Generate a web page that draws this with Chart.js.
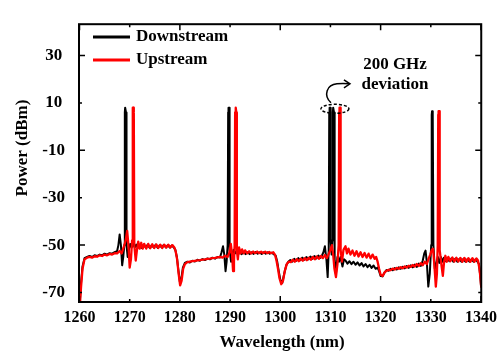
<!DOCTYPE html>
<html>
<head>
<meta charset="utf-8">
<script src="https://cdn.jsdelivr.net/npm/chart.js@4.4.1/dist/chart.umd.min.js"></script>
<style>
  html, body { margin: 0; padding: 0; background: #fff; }
  canvas { display: block; }
</style>
</head>
<body>
<canvas id="spectrum" width="503" height="354"></canvas>
<script>
// axis ticks
const wavelengthTicks = [1260, 1270, 1280, 1290, 1300, 1310, 1320, 1330, 1340];
const powerTicks = [-70, -50, -30, -10, 10, 30];
const seriesNames = ["Downstream", "Upstream"];

// [wavelength (nm), power (dBm)]
const downstreamTrace = [
  [1260.0,-76],[1260.3,-66],[1260.6,-59],[1261.0,-55.5],[1261.5,-55],[1262.0,-54.6],[1262.5,-55],[1263.0,-54.3],
  [1263.5,-54.6],[1264.0,-54],[1264.5,-54.3],[1265.0,-53.6],[1265.5,-54],[1266.0,-53.4],[1266.5,-53.6],[1267.0,-53],[1267.5,-52.5],
  [1267.75,-50],[1268.0,-45.5],[1268.25,-50],[1268.5,-58.5],[1268.72,-55],[1268.93,-50],[1269.03,6],[1269.1,8],
  [1269.2,8],[1269.27,6],[1269.37,-50],[1269.6,-55],[1269.85,-52],[1270.1,-49.5],[1270.4,-51],[1270.7,-49.5],
  [1271.0,-51],[1271.3,-49.8],[1271.6,-51.2],
  [1272.0,-50],[1272.4,-51.2],[1272.8,-49.8],[1273.2,-51],[1273.6,-49.8],[1274.0,-51.2],[1274.4,-50],[1274.8,-51],
  [1275.2,-49.8],[1275.6,-51.2],[1276.0,-50],[1276.4,-51],[1276.8,-49.9],[1277.2,-51],[1277.6,-50],[1278.0,-51],
  [1278.4,-50.2],[1278.8,-51],[1279.1,-52],[1279.4,-55],[1279.7,-60.5],[1280.0,-65.5],[1280.3,-64],[1280.6,-59.5],[1281.0,-57.5],
  [1281.5,-57],[1282.0,-57.3],[1282.5,-56.6],[1283.0,-56.9],[1283.5,-56.2],[1284.0,-56.6],[1284.5,-55.9],[1285.0,-56.3],
  [1285.5,-55.6],[1286.0,-56],[1286.5,-55.3],[1287.0,-55.7],[1287.5,-55],[1288.0,-55.2],
  [1288.3,-53],[1288.6,-50.5],[1288.85,-54],[1289.1,-61],[1289.32,-57],[1289.52,-50],[1289.62,6],[1289.69,8],
  [1289.79,8],[1289.86,6],[1289.96,-52],[1290.2,-57],[1290.45,-54],[1290.7,-52],[1291.0,-53.5],[1291.3,-52.5],
  [1291.6,-54],[1291.9,-52.8],
  [1292.3,-53.8],[1292.7,-52.9],[1293.1,-53.8],[1293.5,-53],[1293.9,-53.8],[1294.3,-53],[1294.7,-53.7],[1295.1,-52.9],
  [1295.5,-53.6],[1295.9,-53],[1296.3,-53.7],[1296.7,-53],[1297.1,-53.6],[1297.5,-53],[1297.9,-53.6],[1298.3,-53.2],
  [1298.7,-53.8],[1299.1,-54.5],[1299.4,-57],[1299.7,-61],[1300.0,-64.5],[1300.4,-66],[1300.8,-62],[1301.2,-58.5],[1301.6,-57],
  [1302.0,-56.3],[1302.4,-57],[1302.8,-55.8],[1303.2,-56.6],[1303.6,-55.5],[1304.0,-56.4],[1304.4,-55.3],[1304.8,-56.2],
  [1305.2,-55],[1305.6,-56],[1306.0,-54.8],[1306.4,-55.8],[1306.8,-54.6],[1307.2,-55.6],[1307.6,-54.4],[1308.0,-55.4],
  [1308.3,-54.4],[1308.6,-53],
  [1308.9,-50.5],[1309.2,-56],[1309.45,-63.5],[1309.66,-52],[1309.76,6],[1309.83,8],[1309.93,8],[1310.0,6],
  [1310.1,-48],[1310.24,-54],[1310.38,-48],[1310.48,6],[1310.55,8],[1310.65,8],[1310.72,6],[1310.84,-56],
  [1311.1,-62],[1311.4,-55],[1311.7,-57],[1312.0,-55],[1312.4,-59],[1312.7,-56],
  [1313.0,-56.5],[1313.4,-57.8],[1313.8,-56.8],[1314.2,-58],[1314.6,-57],[1315.0,-58.3],[1315.4,-57.3],[1315.8,-58.6],
  [1316.2,-57.6],[1316.6,-59],[1317.0,-58],[1317.4,-59.3],[1317.8,-58.3],[1318.2,-59.6],[1318.6,-58.6],[1319.0,-60],
  [1319.4,-59.5],[1319.7,-61],[1320.0,-63],[1320.4,-63.2],[1320.8,-61.5],[1321.2,-60.5],
  [1321.6,-60.8],[1322.0,-60],[1322.4,-60.6],[1322.8,-59.7],[1323.2,-60.3],[1323.6,-59.4],[1324.0,-60],[1324.4,-59.1],
  [1324.8,-59.8],[1325.2,-58.8],[1325.6,-59.6],[1326.0,-58.5],[1326.4,-59.4],[1326.8,-58.2],[1327.2,-59.2],[1327.6,-57.8],
  [1328.0,-58.8],[1328.4,-56.5],[1328.7,-53.5],[1328.95,-52.3],[1329.2,-57],[1329.5,-67.5],[1329.8,-62],[1330.08,-50],
  [1330.18,5],[1330.25,6.5],[1330.35,6.5],[1330.42,5],[1330.52,-50],[1330.8,-60],[1331.1,-58],[1331.4,-55],
  [1331.7,-57.5],[1332.0,-55],[1332.3,-57],[1332.6,-55.3],[1332.9,-56.8],
  [1333.3,-55.5],[1333.7,-56.8],[1334.1,-55.6],[1334.5,-57],[1334.9,-55.7],[1335.3,-57],[1335.7,-55.8],[1336.1,-57],
  [1336.5,-55.8],[1336.9,-57],[1337.3,-55.9],[1337.7,-57],[1338.1,-56],[1338.5,-57],[1338.9,-56],[1339.3,-57],
  [1339.6,-58],[1339.85,-63],[1340.0,-67]
];

const upstreamTrace = [
  [1260.0,-78],[1260.3,-68],[1260.6,-60],[1261.0,-56],[1261.5,-55.3],[1262.0,-55],[1262.5,-55.3],[1263.0,-54.7],
  [1263.5,-54.9],[1264.0,-54.3],[1264.5,-54.6],[1265.0,-54],[1265.5,-54.3],[1266.0,-53.7],[1266.5,-54],[1267.0,-53.4],
  [1267.5,-53.5],[1268.0,-52.5],[1268.4,-53.5],[1268.8,-51],
  [1269.2,-48],[1269.5,-44],[1269.75,-50],[1270.0,-59.5],[1270.25,-56],[1270.48,-48],[1270.58,6],[1270.65,8],
  [1270.75,8],[1270.82,6],[1270.92,-50],[1271.2,-56.5],[1271.45,-52],[1271.7,-48.5],[1272.0,-51.5],[1272.3,-49],
  [1272.6,-51.5],[1272.9,-49.5],
  [1273.3,-51.5],[1273.7,-49.5],[1274.1,-51.3],[1274.5,-49.6],[1274.9,-51.2],[1275.3,-49.7],[1275.7,-51.2],[1276.1,-49.8],
  [1276.5,-51.2],[1276.9,-49.8],[1277.3,-51],[1277.7,-49.8],[1278.1,-51],[1278.5,-50],[1278.9,-51],[1279.15,-52.5],
  [1279.45,-56],[1279.75,-62],[1280.05,-67],[1280.35,-65],[1280.65,-60],[1281.0,-58],
  [1281.5,-57.2],[1282.0,-57],[1282.5,-56.8],[1283.0,-56.6],[1283.5,-56.4],[1284.0,-56.3],[1284.5,-56.1],[1285.0,-56],
  [1285.5,-55.8],[1286.0,-55.7],[1286.5,-55.5],[1287.0,-55.4],[1287.5,-55.2],[1288.0,-55],[1288.5,-55.3],[1289.0,-54.5],
  [1289.5,-55],
  [1289.9,-53],[1290.15,-49.5],[1290.4,-54],[1290.6,-61],[1290.78,-57],[1290.91,-50],[1291.01,6],[1291.08,8],
  [1291.18,8],[1291.25,6],[1291.35,-52],[1291.55,-56],[1291.8,-51],[1292.1,-53.5],[1292.4,-51.8],[1292.7,-53.5],
  [1293.0,-52.2],
  [1293.4,-53.5],[1293.8,-52.6],[1294.2,-53.5],[1294.6,-52.7],[1295.0,-53.4],[1295.4,-52.7],[1295.8,-53.4],[1296.2,-52.8],
  [1296.6,-53.4],[1297.0,-52.8],[1297.4,-53.4],[1297.8,-52.9],[1298.2,-53.4],[1298.6,-53],[1298.95,-54],[1299.25,-56.5],
  [1299.55,-60],[1299.85,-64],[1300.2,-66.5],[1300.55,-65],[1300.9,-61],[1301.3,-58],[1301.7,-57],
  [1302.1,-57.2],[1302.5,-56.2],[1302.9,-57],[1303.3,-55.9],[1303.7,-56.8],[1304.1,-55.7],[1304.5,-56.6],[1304.9,-55.5],
  [1305.3,-56.4],[1305.7,-55.3],[1306.1,-56.2],[1306.5,-55],[1306.9,-56],[1307.3,-54.8],[1307.7,-55.8],[1308.1,-54.6],
  [1308.5,-55.5],[1308.9,-54.2],[1309.3,-55.5],[1309.7,-53.5],[1310.0,-52],
  [1310.3,-50],[1310.55,-54],[1310.8,-60],[1311.1,-63.5],[1311.4,-58],[1311.64,-50],[1311.74,6],[1311.81,8],
  [1311.91,8],[1311.98,6],[1312.08,-52],[1312.3,-57],[1312.6,-52],[1313.0,-50.5],[1313.3,-53.5],[1313.6,-51.5],
  [1314.0,-54],[1314.4,-52.3],[1314.8,-54.5],[1315.2,-52.6],[1315.6,-54.8],[1316.0,-53],[1316.4,-55],[1316.8,-53.3],
  [1317.2,-55.3],[1317.6,-53.6],[1318.0,-55.6],[1318.4,-54],[1318.8,-55.8],[1319.1,-55],[1319.4,-57],[1319.7,-60],
  [1320.0,-62.5],[1320.4,-63],[1320.8,-61.5],[1321.2,-60.8],
  [1321.6,-60.4],[1322.0,-60.6],[1322.4,-59.9],[1322.8,-60.3],[1323.2,-59.6],[1323.6,-60],[1324.0,-59.3],[1324.4,-59.8],
  [1324.8,-59],[1325.2,-59.5],[1325.6,-58.7],[1326.0,-59.2],[1326.4,-58.4],[1326.8,-59],[1327.2,-58],[1327.6,-58.8],
  [1328.0,-57.6],[1328.4,-58.5],[1328.8,-57],[1329.2,-58],[1329.6,-55.5],[1329.9,-54],
  [1330.2,-52],[1330.45,-51.5],[1330.7,-58],[1331.0,-67.5],[1331.22,-62],[1331.38,-50],[1331.48,5],[1331.55,6.5],
  [1331.65,6.5],[1331.72,5],[1331.82,-52],[1332.1,-58],[1332.4,-63],[1332.65,-57],[1332.9,-54.5],[1333.2,-57],
  [1333.5,-55],
  [1333.9,-56.8],[1334.3,-55.2],[1334.7,-56.9],[1335.1,-55.3],[1335.5,-56.9],[1335.9,-55.4],[1336.3,-57],[1336.7,-55.4],
  [1337.1,-57],[1337.5,-55.5],[1337.9,-57],[1338.3,-55.5],[1338.7,-57],[1339.1,-55.6],[1339.4,-56.5],[1339.7,-60],
  [1339.9,-64],[1340.05,-68]
];

const serif = "'Liberation Serif', 'Times New Roman', serif";

function toPoints(trace) {
  return trace.map(([x, y]) => ({ x: x, y: y }));
}

// frame with inward ticks on all four sides
const framePlugin = {
  id: "frame",
  afterDraw(chart) {
    const { ctx, chartArea: a, scales } = chart;
    ctx.save();
    ctx.strokeStyle = "#000";
    ctx.lineWidth = 2;
    ctx.strokeRect(a.left, a.top, a.right - a.left, a.bottom - a.top);
    ctx.lineWidth = 1.5;
    ctx.beginPath();
    wavelengthTicks.forEach((v, i) => {
      const px = scales.x.getPixelForValue(v);
      const len = i % 2 === 0 ? 6 : 3;
      ctx.moveTo(px, a.bottom);
      ctx.lineTo(px, a.bottom - len);
      ctx.moveTo(px, a.top);
      ctx.lineTo(px, a.top + len);
    });
    powerTicks.forEach((v, i) => {
      const py = scales.y.getPixelForValue(v);
      const len = i % 2 === 1 ? 6 : 3;
      ctx.moveTo(a.left, py);
      ctx.lineTo(a.left + len, py);
      ctx.moveTo(a.right, py);
      ctx.lineTo(a.right - len, py);
    });
    ctx.stroke();

    // axis titles
    ctx.fillStyle = "#000";
    ctx.font = "bold 17px " + serif;
    ctx.textAlign = "center";
    ctx.textBaseline = "middle";
    ctx.fillText("Wavelength (nm)", (a.left + a.right) / 2 + 2, 343);
    ctx.translate(23, 148);
    ctx.rotate(-Math.PI / 2);
    ctx.fillText("Power (dBm)", 0, 0);
    ctx.restore();
  }
};

// legend in the top left corner of the plot
const legendPlugin = {
  id: "cornerLegend",
  afterDraw(chart) {
    const ctx = chart.ctx;
    ctx.save();
    ctx.font = "bold 17px " + serif;
    ctx.textAlign = "left";
    ctx.textBaseline = "middle";
    chart.data.datasets.forEach((ds, i) => {
      const y = 37 + i * 23;
      ctx.strokeStyle = ds.borderColor;
      ctx.lineWidth = 3;
      ctx.beginPath();
      ctx.moveTo(93, y);
      ctx.lineTo(130, y);
      ctx.stroke();
      ctx.fillStyle = "#000";
      ctx.fillText(ds.label, 136, y);
    });
    ctx.restore();
  }
};

// dashed ring round the 1310 nm pair, arrow and note
const notePlugin = {
  id: "note",
  afterDraw(chart) {
    const { ctx, scales } = chart;
    const cx = scales.x.getPixelForValue(1310.9);
    const cy = scales.y.getPixelForValue(7.5);
    ctx.save();
    ctx.strokeStyle = "#000";
    ctx.lineWidth = 1.5;
    ctx.setLineDash([3, 2]);
    ctx.beginPath();
    ctx.ellipse(cx, cy, 14, 4.5, 0, 0, Math.PI * 2);
    ctx.stroke();
    ctx.setLineDash([]);

    ctx.beginPath();
    ctx.moveTo(cx - 4, cy - 6);
    ctx.bezierCurveTo(cx - 12, cy - 14, cx - 8, cy - 24, cx + 2, cy - 25);
    ctx.quadraticCurveTo(cx + 8, cy - 25.5, cx + 14, cy - 25);
    ctx.stroke();
    ctx.beginPath();
    ctx.moveTo(cx + 9, cy - 29);
    ctx.lineTo(cx + 15, cy - 25);
    ctx.lineTo(cx + 9, cy - 21);
    ctx.stroke();

    ctx.fillStyle = "#000";
    ctx.font = "bold 17px " + serif;
    ctx.textAlign = "center";
    ctx.textBaseline = "middle";
    ctx.fillText("200 GHz", 395, 65);
    ctx.fillText("deviation", 395, 85);
    ctx.restore();
  }
};

new Chart(document.getElementById("spectrum"), {
  type: "line",
  data: {
    datasets: [
      {
        label: seriesNames[0],
        data: toPoints(downstreamTrace),
        borderColor: "#000000",
        borderWidth: 2,
        borderJoinStyle: "round",
        pointRadius: 0,
        tension: 0,
        order: 2
      },
      {
        label: seriesNames[1],
        data: toPoints(upstreamTrace),
        borderColor: "#ff0000",
        borderWidth: 2.3,
        borderJoinStyle: "round",
        pointRadius: 0,
        tension: 0,
        order: 1
      }
    ]
  },
  options: {
    responsive: false,
    animation: false,
    events: [],
    layout: { padding: { top: 9, right: 20, left: 0, bottom: 0 } },
    plugins: {
      legend: { display: false },
      tooltip: { enabled: false }
    },
    scales: {
      x: {
        type: "linear",
        min: 1259.9,
        max: 1340.05,
        afterBuildTicks: (scale) => {
          scale.ticks = wavelengthTicks.map((v) => ({ value: v }));
        },
        afterFit: (scale) => {
          scale.height = 52;
        },
        grid: { display: false, drawTicks: false },
        border: { display: false },
        ticks: {
          color: "#000",
          padding: 6,
          maxRotation: 0,
          autoSkip: false,
          font: { family: serif, weight: "bold", size: 16 },
          callback: (v) => String(v)
        }
      },
      y: {
        type: "linear",
        min: -74,
        max: 43.2,
        afterBuildTicks: (scale) => {
          scale.ticks = powerTicks.map((v) => ({ value: v }));
        },
        afterFit: (scale) => {
          scale.width = 79;
        },
        grid: { display: false, drawTicks: false },
        border: { display: false },
        ticks: {
          color: "#000",
          padding: 14,
          crossAlign: "center",
          font: { family: serif, weight: "bold", size: 17 },
          callback: (v) => String(v)
        }
      }
    }
  },
  plugins: [framePlugin, legendPlugin, notePlugin]
});
</script>
</body>
</html>
